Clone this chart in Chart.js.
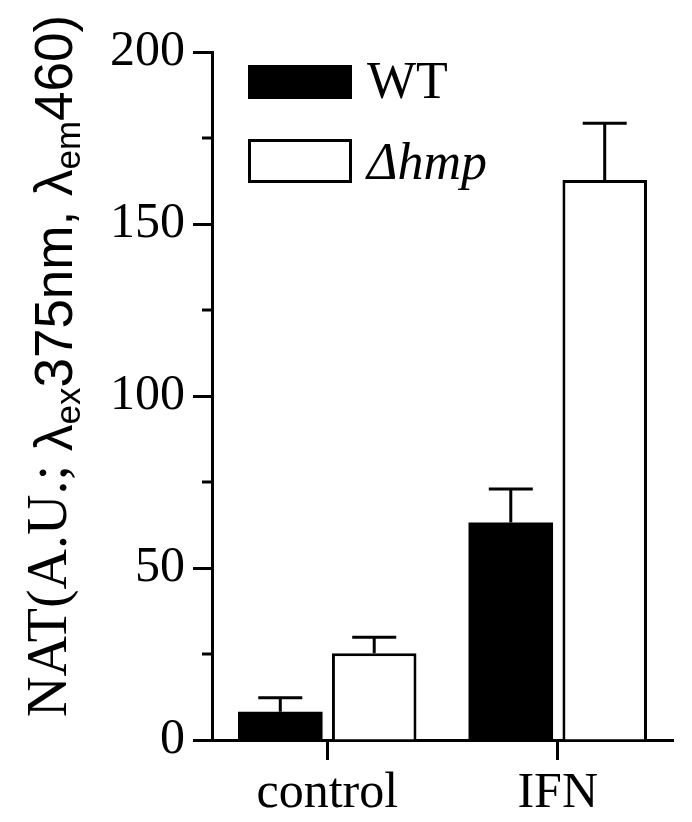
<!DOCTYPE html>
<html>
<head>
<meta charset="utf-8">
<script src="https://cdn.jsdelivr.net/npm/chart.js@4.4.1/dist/chart.umd.min.js"></script>
<style>
  html, body { margin: 0; padding: 0; background: #fff; }
  #wrap { width: 692px; height: 822px; }
</style>
</head>
<body>
<div id="wrap"><canvas id="c" width="692" height="822"></canvas></div>
<script>
// ---- data ----
const categories = ['control', 'IFN'];
const seriesLabels = ['WT', 'Δhmp'];
const wtMeans = [8.2, 63.2];
const wtErrors = [4.1, 9.8];
const hmpMeans = [25.2, 162.8];
const hmpErrors = [4.7, 16.5];
const yMajorTicks = [0, 50, 100, 150, 200];
const yMinorTicks = [25, 75, 125, 175];
const yTitleParts = [
  { text: 'NAT(A.U.; ', kind: 'serif' },
  { text: 'λ', kind: 'sans' },
  { text: 'ex', kind: 'sub' },
  { text: '375nm, ', kind: 'sans' },
  { text: 'λ', kind: 'sans' },
  { text: 'em', kind: 'sub' },
  { text: '460)', kind: 'sans' }
];

const SERIF = '"Liberation Serif", "Times New Roman", serif';
const SANS = '"Liberation Sans", Arial, sans-serif';

const errorBars = {
  id: 'errorBars',
  afterDatasetsDraw(chart) {
    const ctx = chart.ctx;
    const ys = chart.scales.y;
    const errs = [wtErrors, hmpErrors];
    chart.data.datasets.forEach((ds, di) => {
      const meta = chart.getDatasetMeta(di);
      meta.data.forEach((bar, i) => {
        const top = ys.getPixelForValue(ds.data[i] + errs[di][i]);
        ctx.save();
        ctx.strokeStyle = '#000';
        ctx.lineWidth = 3;
        ctx.beginPath();
        ctx.moveTo(bar.x, bar.y);
        ctx.lineTo(bar.x, top);
        ctx.moveTo(bar.x - 22, top);
        ctx.lineTo(bar.x + 22, top);
        ctx.stroke();
        ctx.restore();
      });
    });
  }
};

const minorTicks = {
  id: 'minorTicks',
  afterDraw(chart) {
    const ctx = chart.ctx;
    const ys = chart.scales.y;
    const left = chart.chartArea.left;
    ctx.save();
    ctx.strokeStyle = '#000';
    ctx.lineWidth = 3;
    yMinorTicks.forEach(v => {
      const y = ys.getPixelForValue(v);
      ctx.beginPath();
      ctx.moveTo(left - 10, y);
      ctx.lineTo(left, y);
      ctx.stroke();
    });
    ctx.restore();
  }
};

const customLegend = {
  id: 'customLegend',
  afterDraw(chart) {
    const ctx = chart.ctx;
    const boxes = [
      { x: 248, y: 65, w: 104, h: 34, tx: 367, ty: 98 },
      { x: 249.5, y: 140.5, w: 101, h: 41, tx: 367, ty: 179 }
    ];
    chart.data.datasets.forEach((ds, i) => {
      const b = boxes[i];
      ctx.save();
      ctx.fillStyle = ds.backgroundColor;
      ctx.fillRect(b.x, b.y, b.w, b.h);
      if (i === 1) {
        ctx.strokeStyle = '#000';
        ctx.lineWidth = 3;
        ctx.strokeRect(b.x, b.y, b.w, b.h);
      }
      ctx.fillStyle = '#000';
      ctx.textBaseline = 'alphabetic';
      ctx.textAlign = 'left';
      ctx.font = (i === 1 ? 'italic ' : '') + '52px ' + SERIF;
      ctx.fillText(ds.label, b.tx, b.ty);
      ctx.restore();
    });
  }
};

const yTitle = {
  id: 'yTitle',
  afterDraw(chart) {
    const ctx = chart.ctx;
    const styles = {
      serif: { font: '56px ' + SERIF, dy: 0 },
      sans:  { font: '53px ' + SANS, dy: 6 },
      sub:   { font: '35px ' + SANS, dy: 14 }
    };
    ctx.save();
    ctx.translate(66, 717);
    ctx.rotate(-Math.PI / 2);
    ctx.fillStyle = '#000';
    ctx.textBaseline = 'alphabetic';
    ctx.textAlign = 'left';
    let x = 0;
    yTitleParts.forEach(p => {
      const s = styles[p.kind];
      ctx.font = s.font;
      ctx.fillText(p.text, x, s.dy);
      x += ctx.measureText(p.text).width;
    });
    ctx.restore();
  }
};

new Chart(document.getElementById('c'), {
  type: 'bar',
  data: {
    labels: categories,
    datasets: [
      { label: seriesLabels[0], data: wtMeans, backgroundColor: '#000', borderColor: '#000', borderWidth: 0 },
      { label: seriesLabels[1], data: hmpMeans, backgroundColor: '#fff', borderColor: '#000', borderWidth: 3 }
    ]
  },
  options: {
    responsive: false,
    animation: false,
    devicePixelRatio: 1,
    layout: { padding: { top: 52, right: 19, bottom: 0, left: 0 } },
    datasets: { bar: { barPercentage: 0.9, categoryPercentage: 0.815 } },
    plugins: { legend: { display: false }, tooltip: { enabled: false }, title: { display: false } },
    scales: {
      x: {
        type: 'category',
        offset: true,
        grid: { display: true, drawOnChartArea: false, offset: false, tickLength: 20, tickWidth: 3, tickColor: '#000' },
        border: { display: true, color: '#000', width: 3 },
        ticks: { color: '#000', font: { family: SERIF, size: 50 }, padding: 4, maxRotation: 0 },
        afterFit(scale) { scale.height = 82; }
      },
      y: {
        min: 0, max: 200,
        afterBuildTicks(scale) { scale.ticks = yMajorTicks.map(v => ({ value: v })); },
        grid: { display: true, drawOnChartArea: false, tickLength: 19, tickWidth: 3, tickColor: '#000' },
        border: { display: true, color: '#000', width: 3 },
        ticks: { color: '#000', font: { family: SERIF, size: 50 }, padding: 8 },
        afterFit(scale) { scale.width = 212; }
      }
    }
  },
  plugins: [errorBars, minorTicks, customLegend, yTitle]
});
</script>
</body>
</html>
